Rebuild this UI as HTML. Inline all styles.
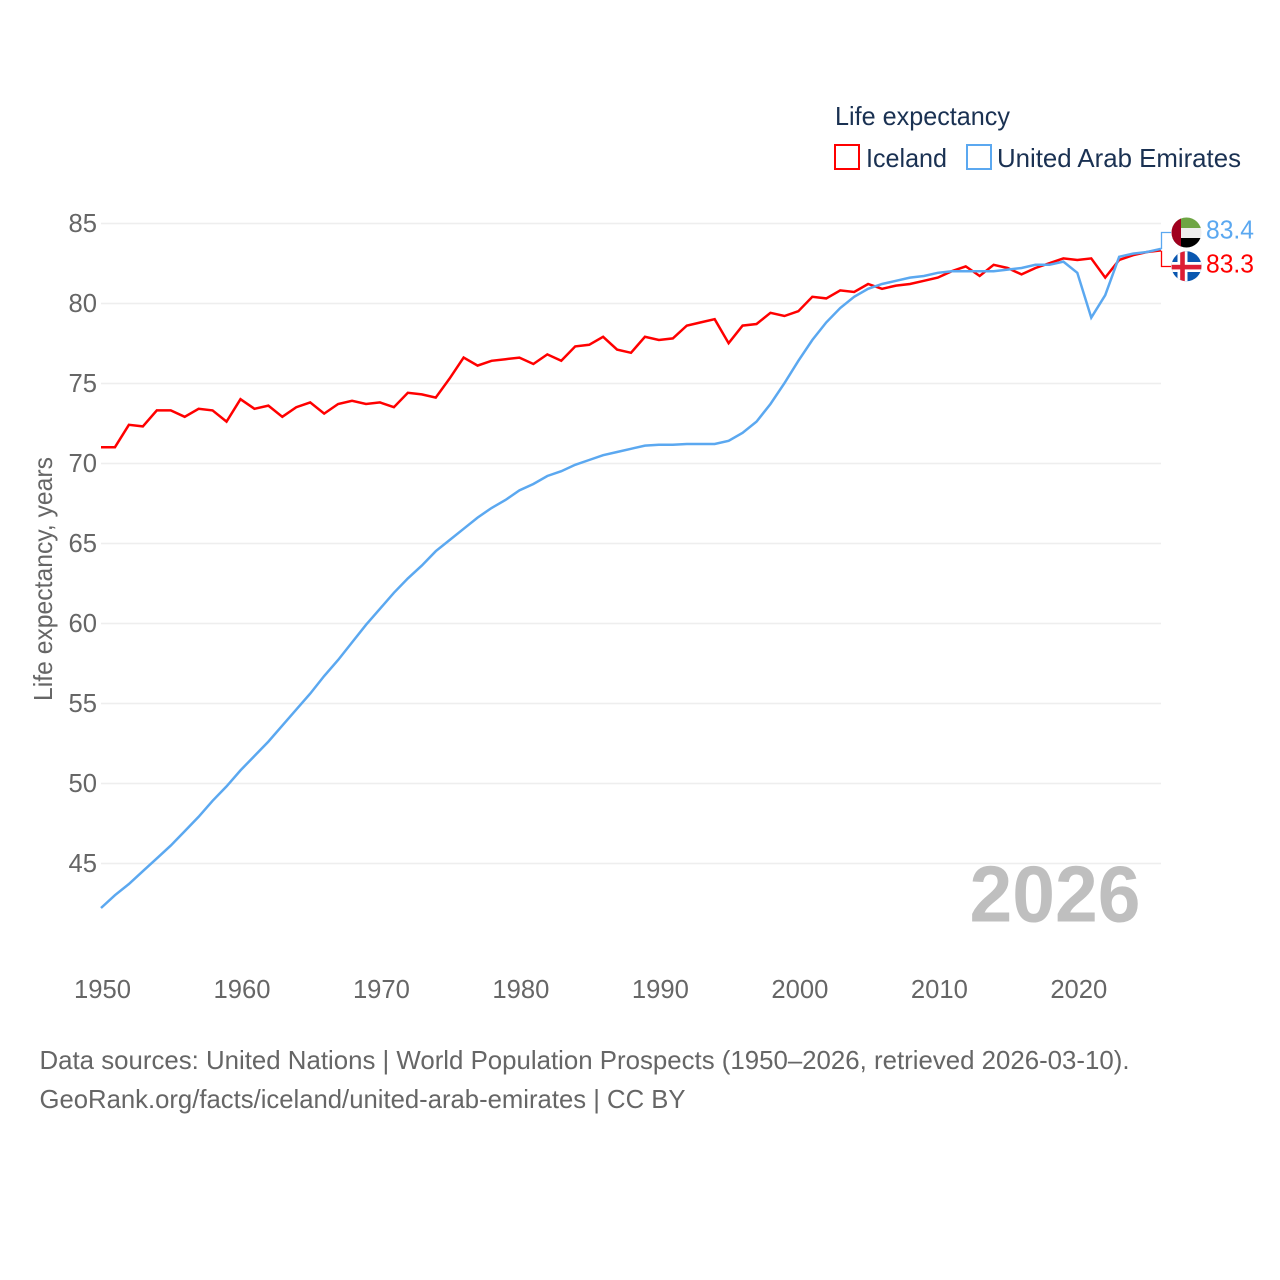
<!DOCTYPE html>
<html lang="en">
<head>
<meta charset="utf-8">
<title>Life expectancy: Iceland and United Arab Emirates</title>
<style>
html,body{margin:0;padding:0;background:#fff;width:1280px;height:1280px;overflow:hidden}
svg{display:block}
text{font-family:"Liberation Sans",Arial,sans-serif}
.tick{font-size:26px;fill:#666}
.legend{font-size:26px;fill:#1a3152}
.foot{font-size:26px;fill:#666}
</style>
</head>
<body>
<svg id="chart" xmlns="http://www.w3.org/2000/svg" width="1280" height="1280" viewBox="0 0 1280 1280">
  <defs>
    <clipPath id="uae-clip"><circle cx="1186.5" cy="232.5" r="15"/></clipPath>
    <clipPath id="isl-clip"><circle cx="1186.5" cy="266.3" r="15"/></clipPath>
  </defs>
  <g id="grid"></g>
  <g id="yticks"></g>
  <g id="xticks"></g>
  <text class="tick" transform="translate(52,701) rotate(-90)" textLength="244" lengthAdjust="spacingAndGlyphs">Life expectancy, years</text>

  <text x="969.5" y="921.5" font-size="80" font-weight="700" fill="#bfbfbf" textLength="171" lengthAdjust="spacingAndGlyphs">2026</text>

  <g id="series"></g>

  <text class="legend" x="835" y="125" textLength="175" lengthAdjust="spacingAndGlyphs">Life expectancy</text>
  <g>
    <rect x="835" y="145" width="24" height="24" fill="#fff" stroke="#ff0000" stroke-width="2"/>
    <text class="legend" x="866" y="167" textLength="81" lengthAdjust="spacingAndGlyphs">Iceland</text>
  </g>
  <g>
    <rect x="967" y="145" width="24" height="24" fill="#fff" stroke="#5ba8f0" stroke-width="2"/>
    <text class="legend" x="997" y="167" textLength="244" lengthAdjust="spacingAndGlyphs">United Arab Emirates</text>
  </g>

  <g clip-path="url(#uae-clip)">
    <rect x="1171" y="217" width="32" height="11" fill="#6ea544"/>
    <rect x="1171" y="228" width="32" height="10" fill="#eeeeee"/>
    <rect x="1171" y="238" width="32" height="11" fill="#000"/>
    <rect x="1171" y="217" width="10" height="32" fill="#a0001e"/>
  </g>
  <g clip-path="url(#isl-clip)">
    <rect x="1171" y="251" width="32" height="32" fill="#0a57b0"/>
    <rect x="1171" y="262" width="32" height="10" fill="#fff"/>
    <rect x="1177.5" y="251" width="10" height="32" fill="#fff"/>
    <rect x="1171" y="264.8" width="32" height="4.6" fill="#dc1e35"/>
    <rect x="1180.2" y="251" width="4.6" height="32" fill="#dc1e35"/>
  </g>
  <text id="uae-value" x="1206" y="238.5" font-size="26" fill="#5ba8f0" textLength="48" lengthAdjust="spacingAndGlyphs"></text>
  <text id="isl-value" x="1206" y="272.5" font-size="26" fill="#ff0000" textLength="48" lengthAdjust="spacingAndGlyphs"></text>

  <text class="foot" x="39.5" y="1069" textLength="1090" lengthAdjust="spacingAndGlyphs">Data sources: United Nations | World Population Prospects (1950–2026, retrieved 2026-03-10).</text>
  <text class="foot" x="39.5" y="1108" textLength="646" lengthAdjust="spacingAndGlyphs">GeoRank.org/facts/iceland/united-arab-emirates | CC BY</text>
</svg>
<script>
const years = [1950,1951,1952,1953,1954,1955,1956,1957,1958,1959,1960,1961,1962,1963,1964,1965,1966,1967,1968,1969,1970,1971,1972,1973,1974,1975,1976,1977,1978,1979,1980,1981,1982,1983,1984,1985,1986,1987,1988,1989,1990,1991,1992,1993,1994,1995,1996,1997,1998,1999,2000,2001,2002,2003,2004,2005,2006,2007,2008,2009,2010,2011,2012,2013,2014,2015,2016,2017,2018,2019,2020,2021,2022,2023,2024,2025,2026];
const iceland = [71.0,71.0,72.4,72.3,73.3,73.3,72.9,73.4,73.3,72.6,74.0,73.4,73.6,72.9,73.5,73.8,73.1,73.7,73.9,73.7,73.8,73.5,74.4,74.3,74.1,75.3,76.6,76.1,76.4,76.5,76.6,76.2,76.8,76.4,77.3,77.4,77.9,77.1,76.9,77.9,77.7,77.8,78.6,78.8,79.0,77.5,78.6,78.7,79.4,79.2,79.5,80.4,80.3,80.8,80.7,81.2,80.9,81.1,81.2,81.4,81.6,82.0,82.3,81.7,82.4,82.2,81.8,82.2,82.5,82.8,82.7,82.8,81.6,82.7,83.0,83.2,83.3];
const uae = [42.2,43.0,43.7,44.5,45.3,46.1,47.0,47.9,48.9,49.8,50.8,51.7,52.6,53.6,54.6,55.6,56.7,57.7,58.8,59.9,60.9,61.9,62.8,63.6,64.5,65.2,65.9,66.6,67.2,67.7,68.3,68.7,69.2,69.5,69.9,70.2,70.5,70.7,70.9,71.1,71.15,71.15,71.2,71.2,71.2,71.4,71.9,72.6,73.7,75.0,76.4,77.7,78.8,79.7,80.4,80.9,81.2,81.4,81.6,81.7,81.9,82.0,82.0,82.0,82.0,82.1,82.2,82.4,82.4,82.6,81.9,79.1,80.5,82.9,83.1,83.2,83.4];
const yTickValues = [45,50,55,60,65,70,75,80,85];
const xTickValues = [1950,1960,1970,1980,1990,2000,2010,2020];

const NS = 'http://www.w3.org/2000/svg';
const plotLeft = 101, plotRight = 1161;
const xScale = function (year) {
  return plotLeft + (year - years[0]) / (years[years.length - 1] - years[0]) * (plotRight - plotLeft);
};
const yScale = function (value) {
  return 863.5 - (value - 45) * 16;
};
function make(tag, attrs, parent) {
  const el = document.createElementNS(NS, tag);
  Object.keys(attrs).forEach(function (k) { el.setAttribute(k, attrs[k]); });
  parent.appendChild(el);
  return el;
}
const gridGroup = document.getElementById('grid');
const yGroup = document.getElementById('yticks');
const xGroup = document.getElementById('xticks');
const seriesGroup = document.getElementById('series');

yTickValues.forEach(function (v) {
  const line = make('line', {x1: plotLeft, x2: plotRight, y1: yScale(v), y2: yScale(v), stroke: '#eeeeee', 'stroke-width': 1.5}, gridGroup);
  
  
  const label = make('text', {x: 68.5, y: yScale(v) + 8.5, class: 'tick', textLength: 28.5, lengthAdjust: 'spacingAndGlyphs'}, yGroup);
  
  
  label.textContent = v;
});
xTickValues.forEach(function (t) {
  const label = make('text', {x: xScale(t) - 27, y: 998, class: 'tick', textLength: 57, lengthAdjust: 'spacingAndGlyphs'}, xGroup);
  
  
  label.textContent = t;
});
function linePath(values) {
  return values.map(function (v, i) {
    return (i ? 'L' : 'M') + xScale(years[i]).toFixed(2) + ' ' + (yScale(v) - 0.3).toFixed(2);
  }).join(' ');
}
const redLine = make('path', {d: linePath(iceland), fill: 'none', stroke: '#ff0000', 'stroke-width': 2.5, 'stroke-linejoin': 'miter'}, seriesGroup);


const blueLine = make('path', {d: linePath(uae), fill: 'none', stroke: '#5ba8f0', 'stroke-width': 2.5, 'stroke-linejoin': 'miter'}, seriesGroup);



const lastIceland = iceland[iceland.length - 1];
const lastUae = uae[uae.length - 1];
const redLink = make('path', {d: 'M' + (plotRight + 0.5) + ' ' + yScale(lastIceland) + ' V266.5 H1171', fill: 'none', stroke: '#ff0000', 'stroke-width': 1.3}, seriesGroup);


const blueLink = make('path', {d: 'M' + (plotRight + 0.5) + ' ' + yScale(lastUae) + ' V232.5 H1171', fill: 'none', stroke: '#5ba8f0', 'stroke-width': 1.3}, seriesGroup);



document.getElementById('uae-value').textContent = lastUae.toFixed(1);
document.getElementById('isl-value').textContent = lastIceland.toFixed(1);
</script>
</body>
</html>
